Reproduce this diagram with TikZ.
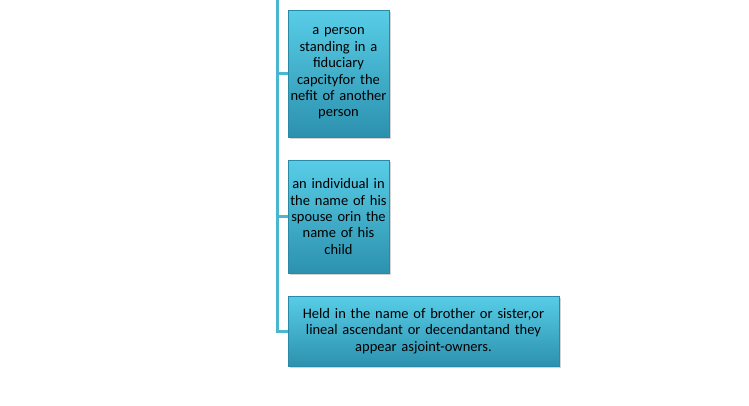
\documentclass[tikz,border=0pt]{standalone}
\usepackage{fontspec}
\setmainfont{Carlito}
\usepackage{xcolor}
\usepackage{tikz}
\usetikzlibrary{positioning, calc, shadows}

\definecolor{boxtop}{HTML}{58CDE7}
\definecolor{boxbot}{HTML}{2C91AE}
\definecolor{boxedge}{HTML}{2A8AA6}
\definecolor{linkcol}{HTML}{4BB6D0}

\begin{document}
\begin{tikzpicture}[
    x=1pt, y=-1pt,
    item/.style={rectangle, draw=boxedge, line width=0.6pt, top color=boxtop, bottom color=boxbot, align=center, inner sep=1pt, font=\fontsize{14.5}{16.4}\selectfont, text=black, drop shadow={shadow xshift=1.5pt, shadow yshift=-2pt, opacity=0.35}},
    link/.style={draw=linkcol, line width=3pt}
]
    \useasboundingbox (0,0) rectangle (749,405);

    % Drei Kästen rechts vom Stamm
    \node[item, minimum width=101pt, minimum height=127pt, text width=99pt] (fiduciary) at (338.5, 73.5) {a person\\standing in a\\fiduciary\\capcityfor the\\nefit of another\\person};

    \node[item, minimum width=101pt, minimum height=113pt, text width=99pt] (spouse) at (338.5, 216.5) {an individual in\\the name of his\\spouse orin the\\name of his\\child};

    \node[item, minimum width=271pt, minimum height=70pt, text width=267pt] (sibling) at (423.5, 331) {Held in the name of brother or sister,or\\lineal ascendant or decendantand they\\appear asjoint-owners.};

    % Stamm von oben bis zum letzten Kasten
    \coordinate (stem) at (277, 0);
    \draw[link] (stem) |- (sibling.west);
    \draw[link] (stem |- fiduciary.west) -- (fiduciary.west);
    \draw[link] (stem |- spouse.west) -- (spouse.west);
\end{tikzpicture}
\end{document}
